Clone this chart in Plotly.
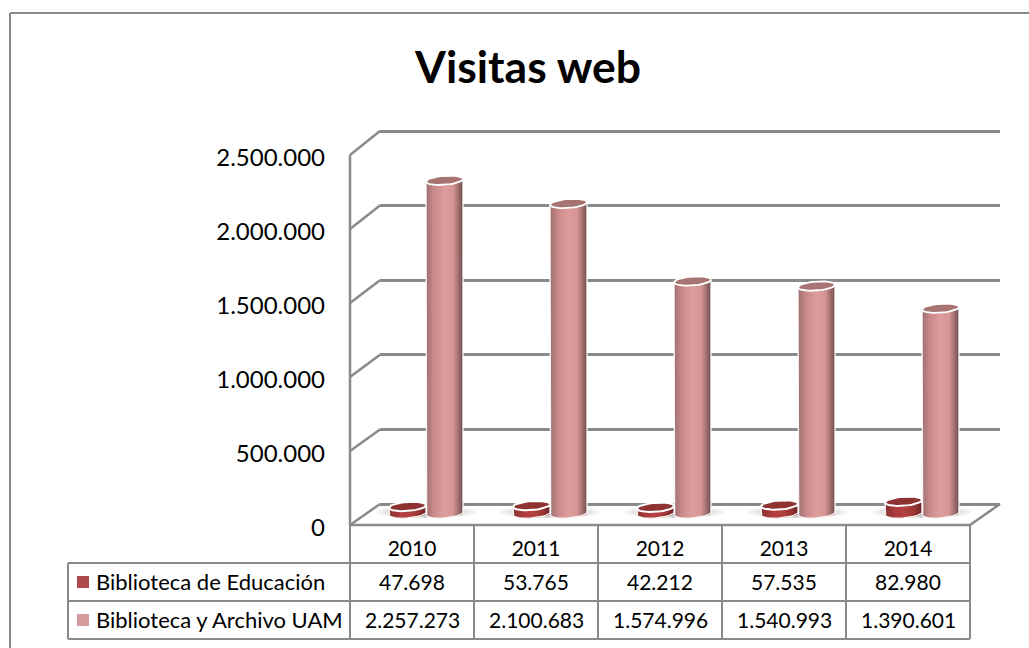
import math
import plotly.graph_objects as go

TITLE = "Visitas web"
YEARS = ["2010", "2011", "2012", "2013", "2014"]
SERIES_A_NAME = "Biblioteca de Educación"
SERIES_B_NAME = "Biblioteca y Archivo UAM"
SERIES_A = [47698, 53765, 42212, 57535, 82980]
SERIES_B = [2257273, 2100683, 1574996, 1540993, 1390601]
Y_TICKS = [0, 500000, 1000000, 1500000, 2000000, 2500000]

W, H = 1029, 648
FONT = "Lato, Carlito, Calibri, sans-serif"
GREY = "#8A8A8A"
TXT = "#000000"
LW = 2.5


def px(x):
    return x / W


def py(y):
    return 1 - y / H


def es(n):
    return f"{n:,}".replace(",", ".")


fig = go.Figure()

# geometry of bar axes
BASE_PX, TOP_PX = 513.5, 144.5
UNIT = 2500000 / (BASE_PX - TOP_PX)
LOW = -150000
LOW_PX = BASE_PX + (-LOW) / UNIT
R = 18.5 / 124
B = 4.5 * UNIT
TILT = 1.3 * UNIT
N = 18
OVER = 1.5 / 124


def lerp(a, b, t):
    return tuple(a[i] + (b[i] - a[i]) * t for i in range(3))


def shade(stops, t):
    for (t0, c0), (t1, c1) in zip(stops, stops[1:]):
        if t <= t1:
            c = lerp(c0, c1, (t - t0) / (t1 - t0))
            return "rgb(%d,%d,%d)" % c
    return "rgb(%d,%d,%d)" % stops[-1][1]


PINK = [(0, (165, 115, 115)), (0.2, (203, 139, 139)), (0.5, (222, 157, 157)),
        (0.75, (214, 150, 150)), (1, (125, 85, 85))]
RED = [(0, (140, 50, 50)), (0.3, (176, 62, 62)), (0.55, (182, 66, 66)),
       (0.85, (150, 52, 52)), (1, (112, 38, 38))]


def cylinders(values, centre, stops, top_col, rim):
    xs = list(range(len(values)))
    for j in range(N):
        u0 = -1 + 2 * j / N
        u1 = -1 + 2 * (j + 1) / N
        um = (u0 + u1) / 2
        dy = -B * math.sqrt(max(0, 1 - um * um)) + TILT * um
        extra = OVER if j < N - 1 else 0
        fig.add_bar(x=xs, y=values, base=[dy] * len(values), width=R * 2 / N + extra,
                    offset=centre + R * u0, xaxis="x3", yaxis="y3",
                    marker=dict(color=shade(stops, j / (N - 1)), line=dict(width=0)),
                    showlegend=False, hoverinfo="skip", cliponaxis=False)
    # white rim round the sides and foot, then the top disc
    ox, oy, ex, ey = [], [], [], []
    for i, v in enumerate(values):
        cx = i + centre
        ox.append(cx - R)
        oy.append(v - TILT)
        for k in range(25):
            t = math.pi - math.pi * k / 24
            ox.append(cx + R * math.cos(t))
            oy.append(-B * math.sin(t) + TILT * math.cos(t))
        ox.append(cx + R)
        oy.append(v + TILT)
        ox.append(None)
        oy.append(None)
        for k in range(41):
            t = 2 * math.pi * k / 40
            ex.append(cx + R * math.cos(t))
            ey.append(v + B * math.sin(t) + TILT * math.cos(t))
        ex.append(None)
        ey.append(None)
    fig.add_scatter(x=ox, y=oy, mode="lines", line=dict(color="rgba(255,255,255,0.9)", width=1.4),
                    xaxis="x3", yaxis="y3", showlegend=False, hoverinfo="skip", cliponaxis=False)
    fig.add_scatter(x=ex, y=ey, mode="lines", fill="toself", fillcolor=top_col,
                    line=dict(color="#FFFFFF", width=rim),
                    xaxis="x3", yaxis="y3", showlegend=False, hoverinfo="skip", cliponaxis=False)


# back wall grid (real gridlines)
fig.add_scatter(x=[0, 1], y=[0, 0], mode="markers", marker=dict(opacity=0),
                xaxis="x", yaxis="y", showlegend=False, hoverinfo="skip")
# front axis carrying tick labels
fig.add_scatter(x=list(range(5)), y=[0] * 5, mode="markers", marker=dict(opacity=0),
                xaxis="x2", yaxis="y2", showlegend=False, hoverinfo="skip", cliponaxis=False)

cylinders(SERIES_A, -R, RED, "#8E3232", 2)
cylinders(SERIES_B, R, PINK, "#A87373", 1.8)

shapes = []


def line(x0, y0, x1, y1, w=LW, color=GREY):
    shapes.append(dict(type="line", xref="paper", yref="paper", x0=px(x0), y0=py(y0),
                       x1=px(x1), y1=py(y1), line=dict(color=color, width=w), layer="below"))


# outer frame
line(10, 13, 1029, 13, 2)
line(10, 13, 10, 648, 2)

# floor shadows
for i in range(len(YEARS)):
    cx = 426 + 124 * i
    for hw, hh, a in [(50, 6, 0.07), (44, 6, 0.08), (36, 5.5, 0.09), (28, 5, 0.09)]:
        shapes.append(dict(type="circle", xref="paper", yref="paper",
                           x0=px(cx - hw), x1=px(cx + hw), y0=py(512 + hh), y1=py(512 - hh),
                           fillcolor=f"rgba(80,80,80,{a})", line=dict(width=0), layer="below"))

# front wall edges
line(350, 155, 350, 525)
line(350, 525, 970, 525)
# side wall diagonals
for k in range(6):
    line(350, 525 - 74 * k, 380, 504 - 74.6 * k)
# floor edges
line(970, 525, 1000, 504)

# table
for y in (563, 601, 639):
    line(68, y, 970, y, 2)
line(68, 563, 68, 639, 2)
for x in (350, 474, 598, 722, 846, 970):
    line(x, 525, x, 639, 2)

# legend keys
for y0, col in ((576, "#B04A4A"), (614, "#D69A9A")):
    shapes.append(dict(type="rect", xref="paper", yref="paper", x0=px(77), x1=px(89),
                       y0=py(y0), y1=py(y0 + 12), fillcolor=col, line=dict(width=0), layer="above"))

anns = [dict(text=f"<b>{TITLE}</b>", x=px(527.5), y=py(65), xref="paper", yref="paper",
             showarrow=False, yanchor="middle", font=dict(family=FONT, size=44.5, color=TXT))]
ROW_FS = 21
for name, vals, yc in ((SERIES_A_NAME, SERIES_A, 581), (SERIES_B_NAME, SERIES_B, 619)):
    anns.append(dict(text=name, x=px(94), y=py(yc), xref="paper", yref="paper", xanchor="left",
                     yanchor="middle", showarrow=False, font=dict(family=FONT, size=22, color=TXT)))
    for i, v in enumerate(vals):
        anns.append(dict(text=es(v), x=i, y=py(yc), xref="x2", yref="paper", yanchor="middle",
                         showarrow=False, font=dict(family=FONT, size=ROW_FS, color=TXT)))

# extend back-wall range slightly so the end gridlines are kept
EXT = 30000
WALL_UNIT = 2500000 / (504 - 131)
fig.update_layout(
    width=W, height=H, margin=dict(l=0, r=0, t=0, b=0, pad=0, autoexpand=False),
    paper_bgcolor="white", plot_bgcolor="rgba(0,0,0,0)",
    separators=",.", barmode="overlay", showlegend=False,
    shapes=shapes, annotations=anns, font=dict(family=FONT, color=TXT),
    xaxis=dict(domain=[px(380), px(1000)], range=[0, 1], anchor="y", visible=False),
    yaxis=dict(domain=[py(504 + EXT / WALL_UNIT), py(131 - EXT / WALL_UNIT)],
               range=[-EXT, 2500000 + EXT], anchor="x", tickvals=Y_TICKS,
               showgrid=True, gridcolor=GREY, gridwidth=LW, zeroline=False,
               showticklabels=False, ticks="", showline=False),
    xaxis2=dict(domain=[px(350), px(970)], anchor="y2", range=[-0.5, 4.5], tickvals=list(range(5)),
                ticktext=YEARS, showgrid=False, zeroline=False,
                showline=False, ticks="",
                tickfont=dict(family=FONT, size=ROW_FS, color=TXT), ticklabelstandoff=6),
    yaxis2=dict(domain=[py(527.5), py(157.5)], range=[0, 2500000], anchor="x2", tickvals=Y_TICKS,
                ticktext=[es(v) for v in Y_TICKS], showgrid=False, zeroline=False,
                showline=False, ticks="",
                tickfont=dict(family=FONT, size=24, color=TXT), ticklabelstandoff=24),
    xaxis3=dict(domain=[px(364), px(984)], range=[-0.5, 4.5], anchor="y3", visible=False),
    yaxis3=dict(domain=[py(LOW_PX), py(TOP_PX)], range=[LOW, 2500000], anchor="x3", visible=False),
)

fig.write_html("out.html", config={"displayModeBar": False},
               post_script="document.body.style.margin='0';document.body.style.overflow='hidden';")
